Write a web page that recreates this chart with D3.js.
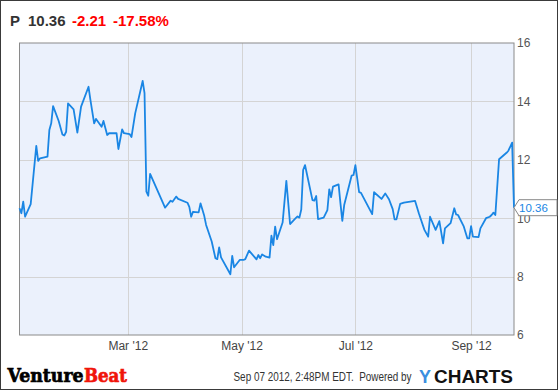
<!DOCTYPE html>
<html><head><meta charset="utf-8">
<script src="https://cdn.jsdelivr.net/npm/d3@7"></script>
<style>
html,body{margin:0;padding:0;background:#fff;}
svg{display:block;font-family:"Liberation Sans",Arial,sans-serif;}
</style></head>
<body>
<svg id="chart" width="558" height="390"></svg>
<script>
// ---- data ----
const ticker = "P";
const lastPrice = "10.36";
const change = "-2.21";
const changePct = "-17.58%";
const startDate = new Date(2012, 0, 3);
const endDate = new Date(2012, 8, 24);
// trading points: offsets in days from startDate, and closing prices
const dayOffsets = [0,1,2,3,6,9,10,11,15,16,
 17,18,21,23,24,25,26,29,31,33,
 37,38,40,41,44,45,47,48,52,53,
 55,56,59,60,62,66,67,68,69,70,
 78,81,82,84,85,90,91,92,93,96,
 97,99,100,103,105,106,107,108,113,114,
 115,118,120,121,123,127,128,129,130,132,
 134,135,136,137,138,141,143,145,148,149,
 150,151,152,153,157,158,159,160,163,165,
 166,167,168,171,172,173,174,178,179,180,
 182,183,189,190,194,196,198,200,201,202,
 204,206,212,214,217,219,220,223,225,227,
 228,231,233,234,235,238,240,241,242,243,
 246,247,250,252,253,254,255,257,261,262,
 264,265];
const closes = [10.34,10.17,10.57,10.05,10.48,12.48,11.96,12.05,12.11,13.02,
 13.25,13.84,13.33,12.87,12.83,12.96,13.93,13.73,12.93,13.82,
 14.50,14.05,13.25,13.40,13.13,13.33,12.85,12.91,12.91,12.37,
 13.04,12.91,12.88,12.78,13.59,14.70,14.28,10.91,10.77,11.52,
 10.36,10.60,10.56,10.74,10.66,10.53,10.39,10.05,10.22,10.20,
 10.51,10.08,9.77,9.20,8.63,8.60,9.00,8.66,8.08,8.71,
 8.32,8.57,8.57,8.60,8.89,8.59,8.74,8.63,8.76,8.68,
 8.65,9.40,9.08,9.71,9.28,9.85,11.28,9.80,10.00,10.06,
 10.02,10.30,11.65,11.82,10.62,10.60,10.76,9.97,10.02,10.28,
 10.99,10.72,11.08,11.16,10.51,9.91,10.45,11.46,11.48,11.82,
 10.89,10.87,10.14,10.89,10.66,10.85,10.65,10.31,9.96,9.96,
 10.49,10.53,10.59,10.17,9.60,9.37,10.05,9.60,9.90,9.14,
 9.65,9.83,10.34,10.13,10.11,9.73,9.31,9.31,9.73,9.37,
 9.35,9.65,10.00,10.05,10.11,10.19,10.11,12.02,12.24,12.31,
 12.59,10.36];
const xTickDates = [new Date(2012,2,1), new Date(2012,4,1), new Date(2012,6,1), new Date(2012,8,1)];
const xTickLabels = ["Mar '12","May '12","Jul '12","Sep '12"];
const yTicks = [6,8,10,12,14,16];
const footerStamp = "Sep 07 2012, 2:48PM EDT.  Powered by";

// ---- layout ----
const W = 558, H = 390;
const plot = {left: 19.5, right: 514, top: 43, bottom: 335};
const svg = d3.select("#chart");

const data = dayOffsets.map((d, i) => ({date: d3.timeDay.offset(startDate, d), v: closes[i]}));
const x = d3.scaleTime().domain([startDate, endDate]).range([plot.left, plot.right]);
const y = d3.scaleLinear().domain([6, 16]).range([plot.bottom, plot.top]);

// outer frame
svg.append("rect").attr("x",0.5).attr("y",0.5).attr("width",W-1).attr("height",H-1)
  .attr("fill","#fff").attr("stroke","#3a3a3a");

// header
const hdr = svg.append("g").attr("font-weight","bold").attr("font-size",15);
hdr.append("text").attr("x",10).attr("y",26).attr("fill","#333").text(ticker);
hdr.append("text").attr("x",28).attr("y",26).attr("fill","#333").text(lastPrice);
hdr.append("text").attr("x",72).attr("y",26).attr("fill","#f00").text(change);
hdr.append("text").attr("x",113).attr("y",26).attr("fill","#f00").text(changePct);

// plot background
svg.append("rect").attr("x",plot.left).attr("y",plot.top)
  .attr("width",plot.right-plot.left).attr("height",plot.bottom-plot.top)
  .attr("fill","#ebf1fc");

// grid
const grid = svg.append("g").attr("stroke","#d4d4d4").attr("stroke-width",1);
grid.selectAll("line.h").data(yTicks.filter(t => t>6 && t<16)).join("line")
  .attr("x1",plot.left).attr("x2",plot.right)
  .attr("y1",d => Math.round(y(d))+0.5).attr("y2",d => Math.round(y(d))+0.5);
grid.selectAll("line.v").data(xTickDates).join("line")
  .attr("y1",plot.top).attr("y2",plot.bottom)
  .attr("x1",d => Math.round(x(d))+0.5).attr("x2",d => Math.round(x(d))+0.5);

// plot frame
svg.append("rect").attr("x",plot.left).attr("y",plot.top)
  .attr("width",plot.right-plot.left).attr("height",plot.bottom-plot.top)
  .attr("fill","none").attr("stroke","#8a8a8a");

// line
svg.append("path").datum(data)
  .attr("fill","none").attr("stroke","#1a86e4").attr("stroke-width",1.8)
  .attr("stroke-linejoin","round")
  .attr("d", d3.line().x(d => x(d.date)).y(d => y(d.v)));

// y axis on right
const yAxis = d3.axisRight(y).tickValues(yTicks).tickSize(0).tickPadding(3).tickFormat(d3.format("d"));
const ya = svg.append("g").attr("transform",`translate(${plot.right},0)`).call(yAxis);
ya.select(".domain").remove();
ya.selectAll("text").attr("font-size",12).attr("fill","#555").attr("font-family","Liberation Sans, Arial, sans-serif");

// x axis labels
const xAxis = d3.axisBottom(x).tickValues(xTickDates).tickSize(0).tickPadding(6)
  .tickFormat((d,i) => xTickLabels[i]);
const xa = svg.append("g").attr("transform",`translate(0,${plot.bottom})`).call(xAxis);
xa.select(".domain").remove();
xa.selectAll("text").attr("font-size",12).attr("fill","#444").attr("font-family","Liberation Sans, Arial, sans-serif");

// last value callout
const last = data[data.length-1];
const ly = y(last.v), lx = x(last.date);
svg.append("path")
  .attr("d",`M${lx},${ly} L${lx+5},${ly-8} L${W-1},${ly-8} L${W-1},${ly+8} L${lx+5},${ly+8} Z`)
  .attr("fill","#fff").attr("stroke","#888");
svg.append("text").attr("x",lx+5).attr("y",ly+4).attr("font-size",11.5)
  .attr("fill","#1a86e4").text(lastPrice);

// footer
const logo = svg.append("g").attr("font-family","DejaVu Serif, serif").attr("font-weight","bold")
  .attr("font-size",19).attr("stroke-width",0.7);
logo.append("text").attr("x",7.5).attr("y",382).attr("fill","#000").attr("stroke","#000")
  .attr("textLength",76).attr("lengthAdjust","spacingAndGlyphs").text("Venture");
logo.append("text").attr("x",84).attr("y",382).attr("fill","#f0140a").attr("stroke","#f0140a")
  .attr("textLength",43).attr("lengthAdjust","spacingAndGlyphs").text("Beat");
svg.append("text").attr("x",233.5).attr("y",381).attr("font-size",12).attr("fill","#333")
  .attr("textLength",178).attr("lengthAdjust","spacingAndGlyphs")
  .style("white-space","pre").text(footerStamp);
svg.append("text").attr("x",419).attr("y",382.5).attr("font-size",18).attr("font-weight","bold")
  .attr("fill","#3a8fe0").attr("textLength",12).attr("lengthAdjust","spacingAndGlyphs").text("Y");
svg.append("text").attr("x",434).attr("y",382.5).attr("font-size",18).attr("font-weight","bold")
  .attr("fill","#111").attr("textLength",79).attr("lengthAdjust","spacingAndGlyphs").text("CHARTS");
</script>
</body></html>
